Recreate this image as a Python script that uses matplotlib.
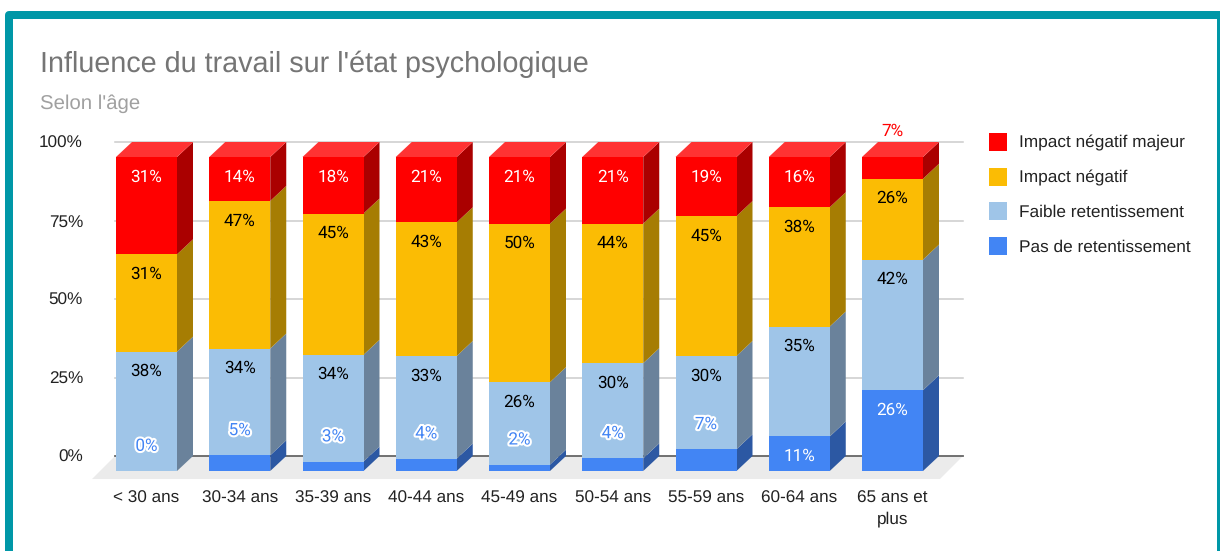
import numpy as np
import matplotlib
matplotlib.use('Agg')
import matplotlib.pyplot as plt
import matplotlib.patheffects as pe
from matplotlib.patches import Patch, Rectangle, Polygon

categories = ['< 30 ans', '30-34 ans', '35-39 ans', '40-44 ans', '45-49 ans',
              '50-54 ans', '55-59 ans', '60-64 ans', '65 ans et\nplus']
pas_de = [0, 5, 3, 4, 2, 4, 7, 11, 26]
faible = [38, 34, 34, 33, 26, 30, 30, 35, 42]
impact = [31, 47, 45, 43, 50, 44, 45, 38, 26]
majeur = [31, 14, 18, 21, 21, 21, 19, 16, 7]
series_names = ['Pas de retentissement', 'Faible retentissement', 'Impact négatif', 'Impact négatif majeur']
y_ticks = [0, 25, 50, 75, 100]

W, H = 1220, 551
plt.rcParams['font.family'] = ['Liberation Sans', 'DejaVu Sans']
plt.rcParams['text.hinting'] = 'none'
fig = plt.figure(figsize=(W / 100, H / 100), dpi=100)

# cadre teal autour du graphique
fig.add_artist(Rectangle((9 / W, 1 - 600 / H), 1211.7 / W, (600 - 14.5) / H, transform=fig.transFigure,
                         fill=False, edgecolor='#0097a7', linewidth=5.76, joinstyle='round'))

# axe: x = indice de categorie, y = pourcentage sur la face avant
step = 93.25
left_px = 146.5 - 0.5 * step
dx = 16 / step
dy = 15 / 3.14
bar_w = 61 / step
# la hauteur inclut la profondeur pour garder le tick 100% du plan arriere
ax = fig.add_axes([left_px / W, 1 - 471 / H, 9 * step / W, 329 / H])

face = ['#4285f4', '#9fc5e8', '#fbbc04', '#ff0000']
side = ['#2c58a3', '#6a829b', '#a67d03', '#aa0000']
label_col = ['white', 'black', 'black', 'white']
data = np.array([pas_de, faible, impact, majeur], dtype=float)
totals = data.sum(axis=0)
shares = data / totals * 100

# sol et grille du plan arriere
x0, x1 = -0.584, 8.509
floor_dx = 23 / step
ax.fill([x0, x0 + floor_dx, x1 + floor_dx, x1], [-2.55, dy, dy, -2.55], color='#ebebeb', clip_on=False, lw=0, zorder=1)
for t in y_ticks:
    ax.plot([x0 + floor_dx, x1 + floor_dx], [t + dy, t + dy], color='#666666' if t == 0 else '#cccccc',
            lw=1.3 if t == 0 else 1.1, clip_on=False, zorder=1.5)

bottoms = np.zeros(len(categories))
for s in range(4):
    for i in range(len(categories)):
        xr = i + bar_w / 2
        b, t = bottoms[i], bottoms[i] + shares[s][i]
        ax.add_patch(Polygon([(xr, b), (xr + dx, b + dy), (xr + dx, t + dy), (xr, t)], closed=True,
                             facecolor=side[s], edgecolor='none', clip_on=False, zorder=2))
    ax.bar(range(len(categories)), shares[s], bottom=bottoms, width=bar_w, color=face[s], clip_on=False, zorder=3)
    bottoms = bottoms + shares[s]

# dessus des barres
for i in range(len(categories)):
    xl = i - bar_w / 2
    ax.add_patch(Polygon([(xl, 100), (xl + dx, 100 + dy), (xl + bar_w + dx, 100 + dy), (xl + bar_w, 100)],
                         closed=True, facecolor='#ff3333', edgecolor='none', clip_on=False, zorder=3))

# etiquettes de donnees
bottoms = np.zeros(len(categories))
for s in range(4):
    for i, v in enumerate(data[s]):
        h = shares[s][i]
        y = bottoms[i] + h - 6.3
        col = label_col[s]
        kw = {}
        if s == 0 and v < 10:
            col = face[0]
            y = bottoms[i] + h + 7.9
            kw['path_effects'] = [pe.withStroke(linewidth=3, foreground='white')]
        if s == 3 and v < 10:
            col = '#ff0000'
            y = 100 + dy + 3.6
        ax.text(i, y, '%d%%' % v, ha='center', va='center', color=col, fontsize=12.3,
                family=['Roboto', 'DejaVu Sans'], zorder=5, **kw)
    bottoms = bottoms + shares[s]

for sp in ax.spines.values():
    sp.set_visible(False)
ax.patch.set_alpha(0)
ax.set_xticks(range(len(categories)), categories, fontsize=12.3, color='#222222', linespacing=1.38)
ax.set_yticks([t + dy for t in y_ticks], ['%d%%' % t for t in y_ticks], fontsize=12.3, color='#222222')
ax.tick_params(axis='x', length=0, pad=14.2)
ax.tick_params(axis='y', length=0, pad=(left_px - 83) * 0.72)
ax.set_xlim(-0.5, 8.5)
ax.set_ylim(0, 100 + dy)

fig.text(40 / W, 1 - 64 / H, "Influence du travail sur l'état psychologique", fontsize=20.7, color='#757575', va='center')
fig.text(40 / W, 1 - 103.5 / H, "Selon l'âge", fontsize=14.7, color='#a0a0a0', va='center')

handles = [Patch(facecolor=face[s], label=series_names[s]) for s in [3, 2, 1, 0]]
fig.legend(handles=handles, loc='upper left', bbox_to_anchor=(989 / W, 1 - 133 / H), frameon=False,
           fontsize=12.4, handlelength=1.05, handleheight=1.24, handletextpad=0.7, labelspacing=0.94,
           labelcolor='#222222', borderaxespad=0, borderpad=0)

fig.savefig('out.png', dpi=100)
